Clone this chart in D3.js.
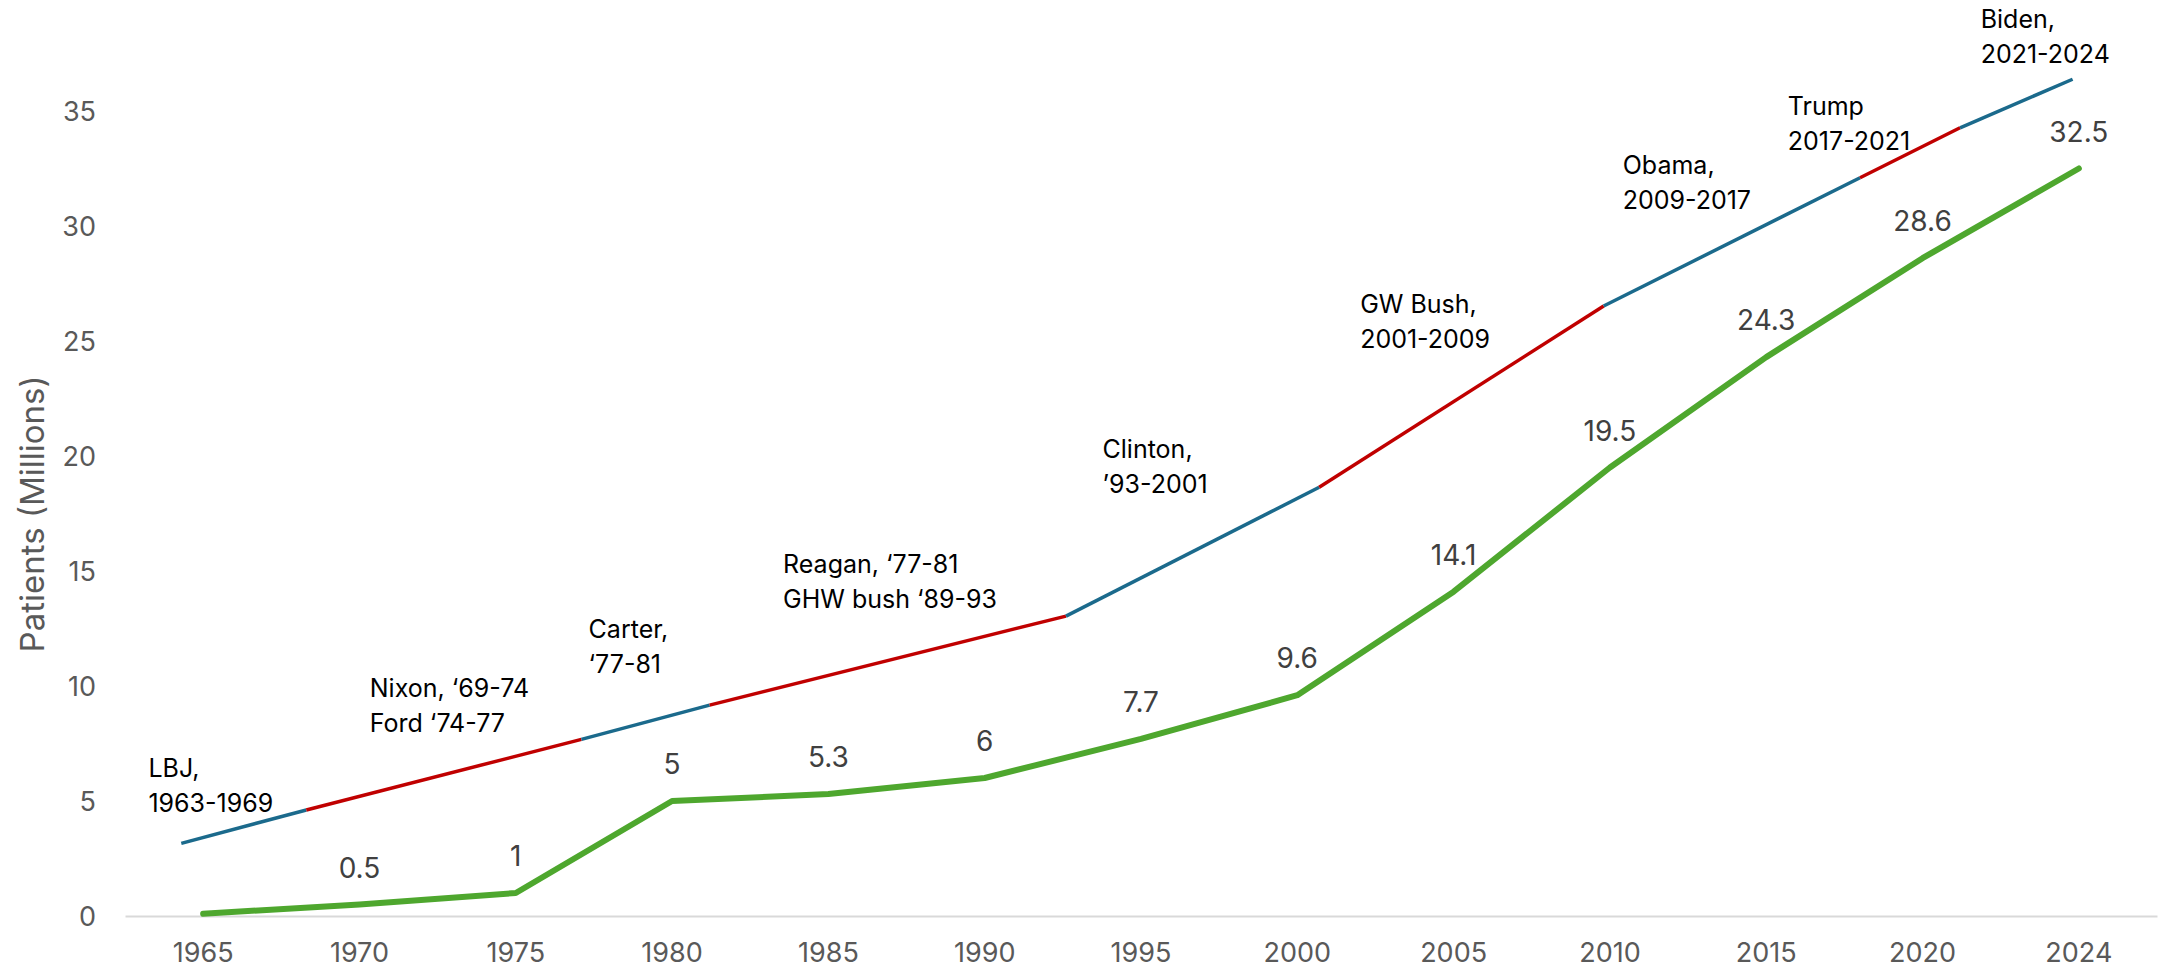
<!DOCTYPE html>
<html>
<head>
<meta charset="utf-8">
<script src="https://cdn.jsdelivr.net/npm/d3@7"></script>
<style>
  html, body { margin: 0; padding: 0; background: #ffffff; }
  svg { display: block; }
</style>
</head>
<body>
<svg id="chart" width="2158" height="970"></svg>
<script>
// Patients per year (millions), one point per category on the axis
const years = ["1965", "1970", "1975", "1980", "1985", "1990", "1995", "2000", "2005", "2010", "2015", "2020", "2024"];
const patients = [0.1, 0.5, 1, 5, 5.3, 6, 7.7, 9.6, 14.1, 19.5, 24.3, 28.6, 32.5];
const patientLabels = ["", "0.5", "1", "5", "5.3", "6", "7.7", "9.6", "14.1", "19.5", "24.3", "28.6", "32.5"];
const yTicks = [0, 5, 10, 15, 20, 25, 30, 35];

// Presidential-term trend line: vertices (year, value) and party of each span
const termYears = [1964.3, 1968.3, 1977.1, 1981.2, 1992.6, 2000.7, 2009.8, 2018.0, 2021.2, 2024.8];
const termValues = [3.16, 4.61, 7.68, 9.17, 13.04, 18.64, 26.52, 32.10, 34.27, 36.38];
const termParty = ["D", "R", "D", "R", "D", "R", "D", "R", "D"];

// Term captions and where each sits (year, value of first baseline)
const termNames = [
  ["LBJ,", "1963-1969"],
  ["Nixon, \u201869-74", "Ford \u201874-77"],
  ["Carter,", "\u201877-81"],
  ["Reagan, \u201877-81", "GHW bush \u201889-93"],
  ["Clinton,", "\u201993-2001"],
  ["GW Bush,", "2001-2009"],
  ["Obama,", "2009-2017"],
  ["Trump", "2017-2021"],
  ["Biden,", "2021-2024"]
];
const noteYears = [1963.25, 1970.33, 1977.33, 1983.55, 1993.77, 2002.01, 2010.41, 2015.69, 2021.86];
const noteValues = [6.04, 9.52, 12.09, 14.93, 19.91, 26.20, 32.25, 34.83, 38.60];

const partyColor = { D: "#1B6A8C", R: "#C00000" };
const FONT = "Inter, 'Liberation Sans', Arial, sans-serif";

const svg = d3.select("#chart");

const x = d3.scaleBand().domain(years).range([125, 2157]).padding(0);
const xc = d => x(d) + x.bandwidth() / 2;
const y = d3.scaleLinear().domain([0, 40]).range([916, -4]);
const yearX = d3.scaleLinear().domain([1965, 2020]).range([xc("1965"), xc("2020")]);

// Category axis along the bottom
const xAxis = svg.append("g")
  .attr("transform", `translate(0,${y(0)})`)
  .call(d3.axisBottom(x).tickSize(0).tickSizeOuter(0));
xAxis.select(".domain").attr("stroke", "#D9D9D9").attr("stroke-width", 2);
xAxis.selectAll("text")
  .attr("y", 46).attr("dy", null)
  .attr("fill", "#595959")
  .style("font-family", FONT).style("font-size", "27px");

// Value axis labels only
const yAxis = svg.append("g")
  .attr("transform", `translate(125,0)`)
  .call(d3.axisLeft(y).tickValues(yTicks).tickSize(0).tickPadding(29));
yAxis.select(".domain").remove();
yAxis.selectAll("text")
  .attr("dy", "0.36em")
  .attr("fill", "#595959")
  .style("font-family", FONT).style("font-size", "27px");

// Axis title
svg.append("text")
  .attr("transform", `translate(44,514) rotate(-90)`)
  .attr("text-anchor", "middle")
  .attr("fill", "#595959")
  .style("font-family", FONT).style("font-size", "33px")
  .text("Patients (Millions)");

// Presidential-term line, one coloured span per term
const spans = termParty.map((p, i) => ({
  party: p,
  pts: [[termYears[i], termValues[i]], [termYears[i + 1], termValues[i + 1]]]
}));
const termLine = d3.line().x(d => yearX(d[0])).y(d => y(d[1]));
svg.append("g").selectAll("path")
  .data(spans)
  .join("path")
  .attr("d", d => termLine(d.pts))
  .attr("fill", "none")
  .attr("stroke", d => partyColor[d.party])
  .attr("stroke-width", 3.5)
  .attr("stroke-linecap", "butt");

// Term captions
const notes = svg.append("g")
  .style("font-family", FONT).style("font-size", "25px")
  .attr("fill", "#000000");
termNames.forEach((lines, i) => {
  const t = notes.append("text")
    .attr("x", yearX(noteYears[i]))
    .attr("y", y(noteValues[i]));
  lines.forEach((s, j) => {
    t.append("tspan")
      .attr("x", yearX(noteYears[i]))
      .attr("dy", j === 0 ? 0 : 35)
      .text(s);
  });
});

// Patient series
const pts = years.map((yr, i) => ({ yr, v: patients[i], label: patientLabels[i] }));
const line = d3.line().x(d => xc(d.yr)).y(d => y(d.v));
svg.append("path")
  .datum(pts)
  .attr("d", line)
  .attr("fill", "none")
  .attr("stroke", "#4EA72E")
  .attr("stroke-width", 6)
  .attr("stroke-linejoin", "round")
  .attr("stroke-linecap", "round");

// Data labels above each point
svg.append("g").selectAll("text")
  .data(pts.filter(d => d.label !== ""))
  .join("text")
  .attr("x", d => xc(d.yr))
  .attr("y", d => y(d.v) - 27)
  .attr("text-anchor", "middle")
  .attr("fill", "#404040")
  .style("font-family", FONT).style("font-size", "28px")
  .text(d => d.label);
</script>
</body>
</html>
